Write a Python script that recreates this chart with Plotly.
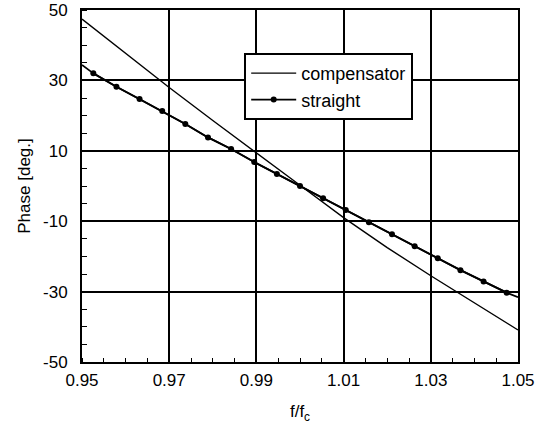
import plotly.graph_objects as go

# Data
comp_x = [0.95, 0.96, 0.97, 0.98, 0.99, 1.00, 1.01, 1.02, 1.03, 1.04, 1.05]
comp_y = [47.4, 37.7, 28.0, 18.6, 9.5, 0.2, -9.0, -17.5, -25.5, -33.3, -40.9]

straight_x = [0.9526, 0.9579, 0.9632, 0.9684, 0.9737, 0.9789, 0.9842, 0.9895, 0.9947, 1.0000,
              1.0053, 1.0105, 1.0158, 1.0211, 1.0263, 1.0316, 1.0368, 1.0421, 1.0474]
straight_y = [32.0, 28.2, 24.7, 21.3, 17.6, 13.8, 10.5, 6.8, 3.4, 0.0,
              -3.5, -6.8, -10.3, -13.7, -17.1, -20.5, -23.9, -27.1, -30.3]
# line extension to plot edges
straight_edge_x = [0.95, 1.05]
straight_edge_y = [34.4, -31.6]

x_ticks = [0.95, 0.97, 0.99, 1.01, 1.03, 1.05]
y_ticks = [50, 30, 10, -10, -30, -50]

FONT = "Arial, Liberation Sans, sans-serif"

fig = go.Figure()
fig.add_trace(go.Scatter(
    x=[straight_edge_x[0]] + straight_x + [straight_edge_x[1]],
    y=[straight_edge_y[0]] + straight_y + [straight_edge_y[1]],
    mode="lines", line=dict(color="black", width=1.8), showlegend=False, hoverinfo="skip"))
fig.add_trace(go.Scatter(x=comp_x, y=comp_y, mode="lines", name="compensator",
                         line=dict(color="black", width=1.4)))
fig.add_trace(go.Scatter(x=straight_x, y=straight_y, mode="lines+markers", name="straight",
                         line=dict(color="black", width=1.8),
                         marker=dict(color="black", size=6, symbol="circle")))

fig.update_layout(
    width=550, height=429,
    margin=dict(l=82, r=32, t=10, b=67),
    paper_bgcolor="white", plot_bgcolor="white",
    font=dict(family=FONT, size=17, color="black"),
    legend=dict(x=0.372, y=0.878, xanchor="left", yanchor="top",
                bordercolor="black", borderwidth=2, bgcolor="white",
                font=dict(size=18), tracegroupgap=0, itemwidth=45),
    xaxis=dict(range=[0.95, 1.05], tickvals=x_ticks, ticktext=[f"{v:.2f}" for v in x_ticks],
               automargin=False, ticklabeloverflow="allow",
               showgrid=True, gridcolor="black", gridwidth=1.5,
               showline=True, linecolor="black", linewidth=2, mirror=True,
               ticks="", zeroline=False, ticklabelstandoff=2,
               minor=dict(dtick=0.005, tick0=0.95, ticks="inside", ticklen=4,
                          tickcolor="black", tickwidth=1, showgrid=False),
               title=dict(text="f/f<sub>c</sub>", standoff=16, font=dict(size=17))),
    yaxis=dict(range=[-50, 50], tickvals=y_ticks, ticktext=[str(v) for v in y_ticks],
               automargin=False, ticklabeloverflow="allow",
               showgrid=True, gridcolor="black", gridwidth=1.5,
               showline=True, linecolor="black", linewidth=2, mirror=True,
               ticks="", zeroline=False, ticklabelstandoff=9,
               minor=dict(dtick=5, tick0=-50, ticks="inside", ticklen=5,
                          tickcolor="black", tickwidth=1, showgrid=False),
               title=dict(text="Phase [deg.]", standoff=8, font=dict(size=17))),
)

fig.write_html("out.html", config={"displayModeBar": False},
               post_script="document.body.style.margin='0';")
